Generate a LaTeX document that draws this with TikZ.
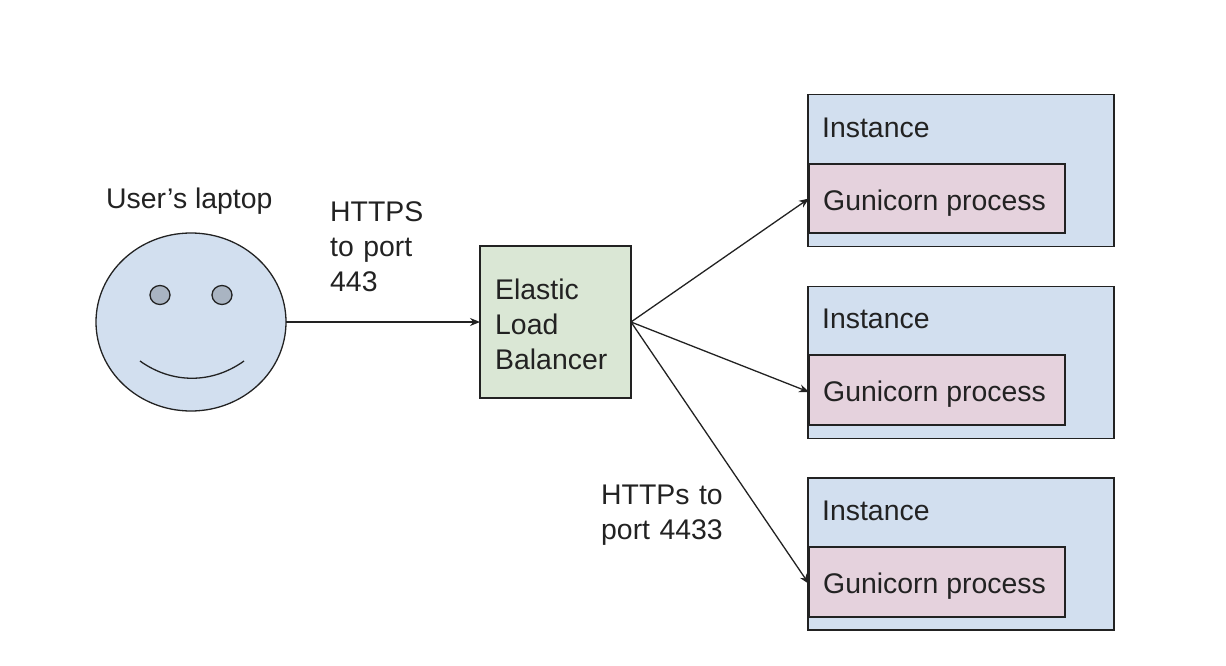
\documentclass[tikz,border=0pt]{standalone}
\usepackage{fontspec}
\setmainfont{Liberation Sans}
\usetikzlibrary{arrows.meta,shapes.geometric}
\definecolor{lblue}{HTML}{D2DFEF}
\definecolor{lgreen}{HTML}{DAE7D5}
\definecolor{lpink}{HTML}{E5D2DD}
\definecolor{eyegray}{HTML}{A9B4C2}
\definecolor{ink}{HTML}{222222}
\tikzset{
  x=1pt,y=-1pt,
  every node/.style={text=ink,font=\fontsize{28.4}{35}\selectfont},
  boxbase/.style={draw=ink,line width=1.3pt,inner sep=0pt,outer sep=0pt,minimum height=0pt},
  instancebox/.style={boxbase,fill=lblue,minimum width=306pt,minimum height=152pt},
  gunibox/.style={boxbase,fill=lpink,minimum width=256pt,minimum height=69.5pt,line width=1.6pt},
  elbbox/.style={boxbase,fill=lgreen,minimum width=151pt,minimum height=152pt},
  label/.style={inner sep=0pt,anchor=west,align=left},
  conn/.style={draw=ink,line width=1.3pt,-{Stealth[length=10pt,width=8pt]}},
}
\begin{document}
\begin{tikzpicture}
\useasboundingbox (0,0) rectangle (1226,666);
% user
\node[label] (usertext) at (106,201) {User’s laptop};
\node[boxbase,shape=ellipse,fill=lblue,minimum width=190pt,minimum height=178pt] (face) at (191,322) {};
\node[boxbase,shape=ellipse,fill=eyegray,minimum width=20pt,minimum height=19pt] (eyeL) at (160,295) {};
\node[boxbase,shape=ellipse,fill=eyegray,minimum width=20pt,minimum height=19pt] (eyeR) at (222,295) {};
\draw[draw=ink,line width=1.3pt] (140,361) .. controls (172,384) and (212,384) .. (244,361);
% ELB
\node[elbbox] (elb) at (555.5,322) {};
\node[label,text width=140pt] (elbtext) at (495,324) {Elastic\\Load\\Balancer};
% instances
\node[instancebox] (inst1) at (961,170.5) {};
\node[instancebox] (inst2) at (961,362.5) {};
\node[instancebox] (inst3) at (961,554) {};
\node[label] (it1) at (822,127.5) {Instance};
\node[label] (it2) at (822,318.5) {Instance};
\node[label] (it3) at (822,510.5) {Instance};
\node[gunibox] (g1) at (937,198.5) {};
\node[gunibox] (g2) at (937,390) {};
\node[gunibox] (g3) at (937,582) {};
\node[label] (gt1) at (823,203) {Gunicorn process};
\node[label] (gt2) at (823,394.5) {Gunicorn process};
\node[label] (gt3) at (823,586.5) {Gunicorn process};
% labels
\node[label,text width=120pt] (https) at (330,247) {HTTPS\\to port\\443};
\node[label,text width=150pt] (https2) at (601,515.5) {HTTPs to\\port 4433};
% connectors
\coordinate (t2) at ([yshift=-2pt]g2.west);
\coordinate (t3) at ([yshift=-2pt]g3.west);
\draw[conn] (face.east) -- (elb.west);
\draw[conn] (elb.east) -- (g1.west);
\draw[conn] (elb.east) -- (t2);
\draw[conn] (elb.east) -- (t3);
\end{tikzpicture}
\end{document}
